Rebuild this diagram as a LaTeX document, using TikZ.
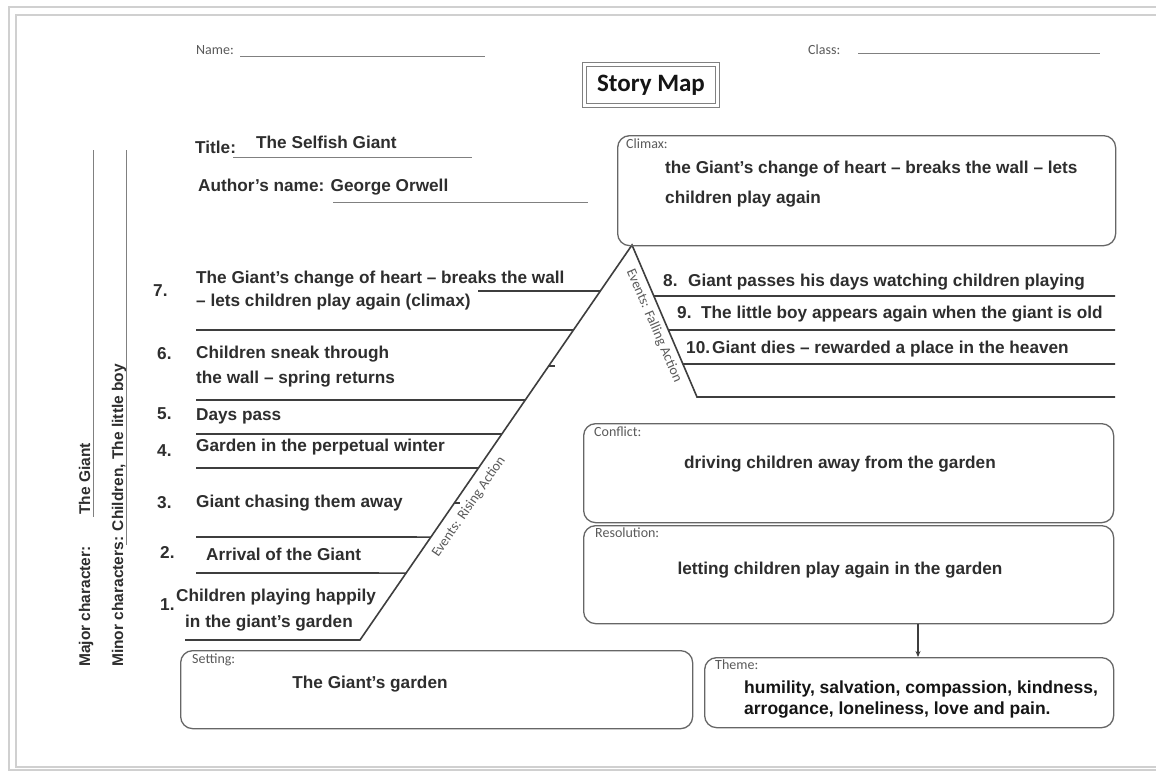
\documentclass[tikz,border=0pt]{standalone}
\usepackage{fontspec}
\setmainfont{Liberation Sans}
\newfontfamily\calfont{Carlito}
\usetikzlibrary{arrows.meta}
\definecolor{ink}{HTML}{2E2E2E}
\definecolor{darkink}{HTML}{151515}
\definecolor{rulegray}{HTML}{3E3E3E}
\definecolor{boxgray}{HTML}{666666}
\definecolor{framegray}{HTML}{D0D0D0}
\definecolor{lblgray}{HTML}{5A5A5A}

\begin{document}
\begin{tikzpicture}[x=1pt,y=-1pt,
  txt/.style={font=\fontsize{17.2}{20}\selectfont\bfseries,text=ink,inner sep=0pt,anchor=base west},
  sidetxt/.style={txt,font=\fontsize{15.5}{18}\selectfont\bfseries,rotate=90},
  lbl/.style={font=\calfont\fontsize{14}{16}\selectfont,text=lblgray,inner sep=0pt,anchor=north west},
  box/.style={draw=boxgray,line width=1.3pt,rounded corners=12pt,anchor=north west,inner sep=0pt},
  rule/.style={draw=rulegray,line width=1.6pt},
  thinrule/.style={draw=gray,line width=0.9pt},
  frame/.style={draw=framegray,line width=1.6pt}]

  \useasboundingbox[fill=white] (0,0) rectangle (1156,772);
  \draw[frame] (9,7) rectangle (1170,770);
  \draw[frame] (16,15) rectangle (1170,767);

  % header
  \node[lbl,anchor=base west] (name) at (196,54) {Name:};
  \draw[thinrule] (240,56) -- (485,56);
  \node[lbl,anchor=base west] (class) at (808,54) {Class:};
  \draw[thinrule] (858,53) -- (1100,53);
  \node[draw=gray,double,double distance=3.5pt,line width=1pt,minimum width=133pt,minimum height=41pt,
    font=\calfont\fontsize{25}{28}\selectfont\bfseries,text=darkink] (storymap) at (651,85) {Story Map};

  \node[txt] (title) at (195,153) {Title:};
  \node[txt] (titletext) at (256,148) {The Selfish Giant};
  \draw[thinrule] (233,157) -- (472,157);
  \node[txt] (author) at (198,191) {Author's name: George Orwell};
  \draw[thinrule] (333,202) -- (588,202);

  % characters
  \node[sidetxt] (major) at (90,667) {Major character:};
  \node[sidetxt] (majorname) at (90,515) {The Giant};
  \draw[thinrule] (93,150) -- (93,517);
  \node[sidetxt] (minor) at (123,667) {Minor characters: Children, The little boy};
  \draw[thinrule] (126,150) -- (126,545);

  % plot line
  \coordinate (rb) at (360,640);
  \coordinate (apex) at (632,245);
  \coordinate (fb) at (697,397);
  \coordinate (fend) at (1115,397);
  \draw[rule] (185,640) -- (rb) -- (apex) -- (fb) -- (fend);
  \foreach \y in {330,400,434,468,537,573}
    \draw[rule] (196,\y) -- (intersection of rb--apex and 0,\y--100,\y);
  \draw[rule] (478,291) -- (intersection of rb--apex and 0,291--100,291);
  \foreach \y in {366,503}
    \draw[rule] (intersection of rb--apex and 0,\y--100,\y) -- ++(6,0);
  \foreach \y in {296,330,364}
    \draw[rule] (intersection of apex--fb and 0,\y--100,\y) -- (1115,\y);

  \node[lbl,anchor=center,rotate=55.45] (rising) at (469,507) {Events: Rising Action};
  \node[lbl,anchor=center,rotate=-66.6] (falling) at (654,326) {Events: Falling Action};

  % rising events
  \node[txt] (n7) at (153,296) {7.};
  \node[txt] (e7a) at (196,283) {The Giant's change of heart -- breaks the wall};
  \node[txt] (e7b) at (196,306) {-- lets children\ play again (climax)};
  \node[txt] (n6) at (157,359) {6.};
  \node[txt] (e6a) at (196,358) {Children sneak through};
  \node[txt] (e6b) at (196,383) {the wall -- spring returns};
  \node[txt] (n5) at (157,419) {5.};
  \node[txt] (e5) at (196,420) {Days pass};
  \node[txt] (n4) at (157,456) {4.};
  \node[txt] (e4) at (196,451) {Garden in the perpetual winter};
  \node[txt] (n3) at (157,508) {3.};
  \node[txt] (e3) at (196,507) {Giant chasing them away};
  \node[txt] (n2) at (160,558) {2.};
  \node[txt] (e2) at (206,560) {Arrival of the Giant};
  \node[txt] (n1) at (160,610) {1.};
  \node[txt] (e1a) at (176,601) {Children playing happily};
  \node[txt] (e1b) at (185,627) {in the giant's garden};

  % falling events
  \node[txt] (n8) at (663,286) {8.};
  \node[txt] (e8) at (688,286) {Giant passes his days watching children playing};
  \node[txt] (n9) at (677,318) {9.};
  \node[txt] (e9) at (701,318) {The little boy appears again when the giant is old};
  \node[txt] (n10) at (686,353) {10.};
  \node[txt] (e10) at (712,353) {Giant dies -- rewarded a place in the heaven};

  % boxes
  \node[box,minimum width=498pt,minimum height=110pt] (climax) at (617,135) {};
  \node[lbl] at ([shift={(9,4)}]climax.north west) {Climax:};
  \node[txt] (climaxa) at (665,173) {the Giant's change of heart -- breaks the wall -- lets};
  \node[txt] (climaxb) at (665,203) {children play again};

  \node[box,minimum width=530pt,minimum height=99pt] (conflict) at (583,423) {};
  \node[lbl] at ([shift={(11,4)}]conflict.north west) {Conflict:};
  \node[txt,anchor=base] (conflicttext) at (840,468) {driving children away from the garden};

  \node[box,minimum width=530pt,minimum height=98pt] (res) at (583,525) {};
  \node[lbl] at ([shift={(12,3)}]res.north west) {Resolution:};
  \node[txt,anchor=base] (restext) at (840,574) {letting children play again in the garden};

  \node[box,minimum width=512pt,minimum height=78pt] (setting) at (180,650) {};
  \node[lbl] at ([shift={(12,4)}]setting.north west) {Setting:};
  \node[txt,anchor=base] (settingtext) at (370,688) {The Giant's garden};

  \node[box,minimum width=409pt,minimum height=70pt] (theme) at (704,657) {};
  \node[lbl] at ([shift={(11,3)}]theme.north west) {Theme:};
  \node[txt,text=darkink,font=\fontsize{17.5}{20}\selectfont\bfseries] (themea) at (744,693) {humility, salvation, compassion, kindness,};
  \node[txt,text=darkink,font=\fontsize{17.5}{20}\selectfont\bfseries] (themeb) at (744,714) {arrogance, loneliness, love and pain.};

  \coordinate (tarrow) at (918,0);
  \draw[rulegray,line width=1.3pt,-{Stealth[length=6pt,width=5pt]}] (res.south -| tarrow) -- (theme.north -| tarrow);
\end{tikzpicture}
\end{document}
